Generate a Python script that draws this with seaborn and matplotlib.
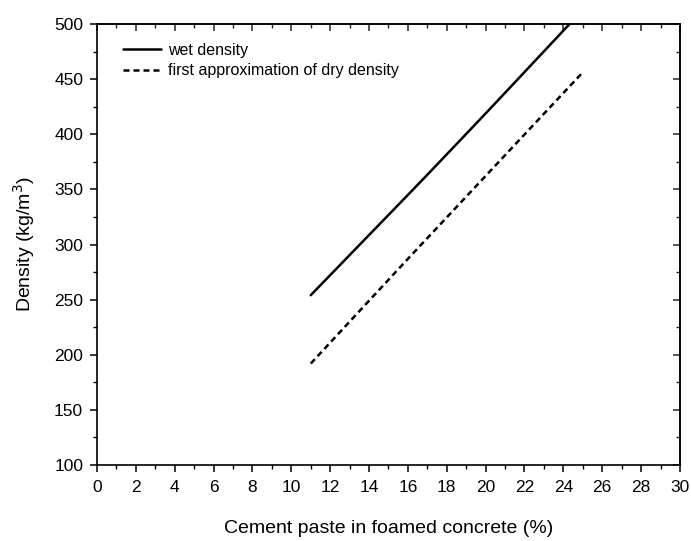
import matplotlib
matplotlib.use("Agg")
import matplotlib.pyplot as plt
from matplotlib.ticker import MultipleLocator
import seaborn as sns
import pandas as pd

cement_paste = [11, 12, 13, 14, 15, 16, 17, 18, 19, 20, 21, 22, 23, 24, 25]
wet_density = [254, 272.2, 290.4, 308.6, 326.8, 345, 363.3, 381.8, 400.3, 418.9, 437.6, 456.4, 475.2, 494, 512.8]
dry_density = [192, 211, 230, 249, 268, 287, 305.8, 324.6, 343.4, 362.2, 381, 399.8, 418.6, 437.4, 456.2]
series_names = ["wet density", "first approximation of dry density"]

sns.set_theme(style="ticks")
plt.rcParams['font.family'] = ['Liberation Sans', 'DejaVu Sans']
plt.rcParams['text.color'] = 'black'
plt.rcParams['axes.labelcolor'] = 'black'

df = pd.DataFrame({
    "x": cement_paste * 2,
    "y": wet_density + dry_density,
    "series": [series_names[0]] * len(cement_paste) + [series_names[1]] * len(cement_paste),
})

fig = plt.figure(figsize=(6.91, 5.41), dpi=100)
ax = fig.add_axes([0.1404, 0.1405, 0.8436, 0.8151])

sns.lineplot(data=df, x="x", y="y", hue="series", style="series",
             palette=["black", "black"],
             dashes={series_names[0]: "", series_names[1]: (2.4, 1.6)},
             linewidth=1.8, ax=ax, legend=True)

ax.set_xlim(0, 30)
ax.set_ylim(100, 500)
ax.xaxis.set_major_locator(MultipleLocator(2))
ax.xaxis.set_minor_locator(MultipleLocator(1))
ax.yaxis.set_major_locator(MultipleLocator(50))
ax.yaxis.set_minor_locator(MultipleLocator(25))

for s in ax.spines.values():
    s.set_visible(True)
    s.set_linewidth(1.2)
    s.set_color("black")

ax.tick_params(axis="both", which="major", direction="out", length=5, width=1.1,
               labelsize=12.5, colors="black", pad=5)
ax.tick_params(axis="x", which="major", pad=6)
ax.tick_params(axis="both", which="minor", direction="out", length=3, width=1.0, colors="black")

axt = ax.secondary_xaxis("top")
axt.xaxis.set_major_locator(MultipleLocator(2))
axt.xaxis.set_minor_locator(MultipleLocator(1))
axt.tick_params(which="major", direction="in", length=5, width=1.1, labeltop=False)
axt.tick_params(which="minor", direction="in", length=3, width=1.0)
axt.spines["top"].set_linewidth(1.2)
axr = ax.secondary_yaxis("right")
axr.yaxis.set_major_locator(MultipleLocator(50))
axr.yaxis.set_minor_locator(MultipleLocator(25))
axr.tick_params(which="major", direction="in", length=5, width=1.1, labelright=False)
axr.tick_params(which="minor", direction="in", length=3, width=1.0)
axr.spines["right"].set_linewidth(1.2)

ax.set_xlabel("Cement paste in foamed concrete (%)", fontsize=14, labelpad=18, color="black")
ax.set_ylabel("Density (kg/m$^3$)", fontsize=14, labelpad=12, color="black")

leg = ax.legend(loc="upper left", frameon=False, fontsize=11.5,
                bbox_to_anchor=(0.02, 0.99), handlelength=2.4, handletextpad=0.4,
                labelspacing=0.35)
for line in leg.get_lines():
    line.set_linewidth(1.8)
for t in leg.get_texts():
    t.set_color("black")

ax.grid(False)
fig.savefig("out.png", dpi=100)
